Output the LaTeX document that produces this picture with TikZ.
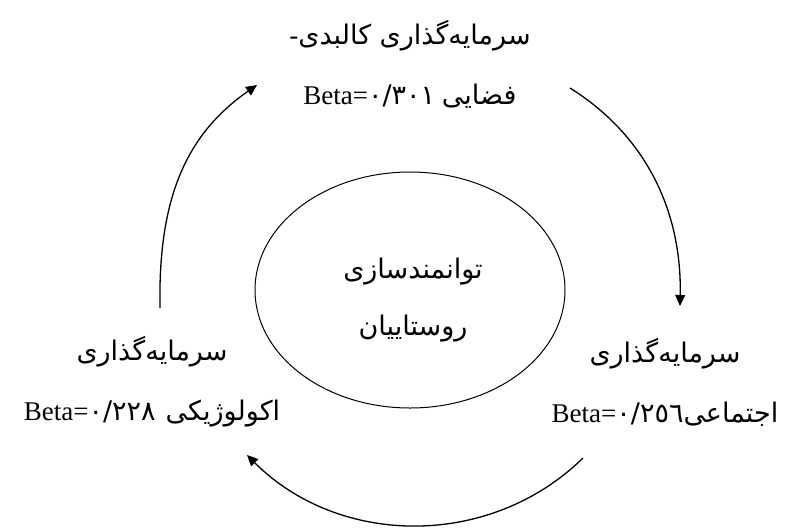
\documentclass[tikz,border=0pt]{standalone}
\usepackage{fontspec}
\setmainfont{Liberation Serif}
\newfontfamily\arabicfont[Script=Arabic]{DejaVu Sans}
\TeXXeTstate=1
\usetikzlibrary{arrows.meta,shapes.geometric}
\begin{document}
\begin{tikzpicture}[x=1pt,y=-1pt,
  lbl/.style={align=center,font=\fontsize{27}{60}\selectfont,inner sep=0pt},
  flow/.style={line width=1.3pt,-{Triangle[length=11pt,width=10pt]}},
  ring/.style={draw,ellipse,line width=1pt,minimum width=310pt,minimum height=236pt,inner sep=0pt}
]
\useasboundingbox (0,0) rectangle (792,528);
\node[ring] (core) at (410,290) {};
\node[lbl,font=\fontsize{27}{57}\selectfont] (coretxt) at (413,300) {{\arabicfont\beginR توانمندسازی\endR}\\{\arabicfont\beginR روستاییان\endR}};
\node[lbl] (top) at (410,64) {\beginR{\arabicfont سرمایه^^^^200cگذاری کالبدی}\beginL-\endL\endR\\\beginR{\arabicfont فضایی} \beginL Beta={\arabicfont ٠/٣٠١}\endL\endR};
\node[lbl] (right) at (665,382) {{\arabicfont\beginR سرمایه^^^^200cگذاری\endR}\\\beginR{\arabicfont اجتماعی}\beginL Beta={\arabicfont ٠/٢٥٦}\endL\endR};
\node[lbl] (left) at (152,382) {{\arabicfont\beginR سرمایه^^^^200cگذاری\endR}\\\beginR{\arabicfont اکولوژیکی}\hspace{10pt}\beginL Beta={\arabicfont ٠/٢٢٨}\endL\endR};
\coordinate (a1s) at (570,88);
\coordinate (a1e) at (680,306);
\coordinate (a2s) at (160,308);
\coordinate (a2e) at (257,85);
\coordinate (a3s) at (583,458);
\coordinate (a3e) at (247,455);
\draw[flow] (a1s) .. controls (645,135) and (682,210) .. (a1e);
\draw[flow] (a3s) .. controls (490,549) and (339,547) .. (a3e);
\draw[flow] (a2s) .. controls (158,200) and (185,135) .. (a2e);
\end{tikzpicture}
\end{document}
